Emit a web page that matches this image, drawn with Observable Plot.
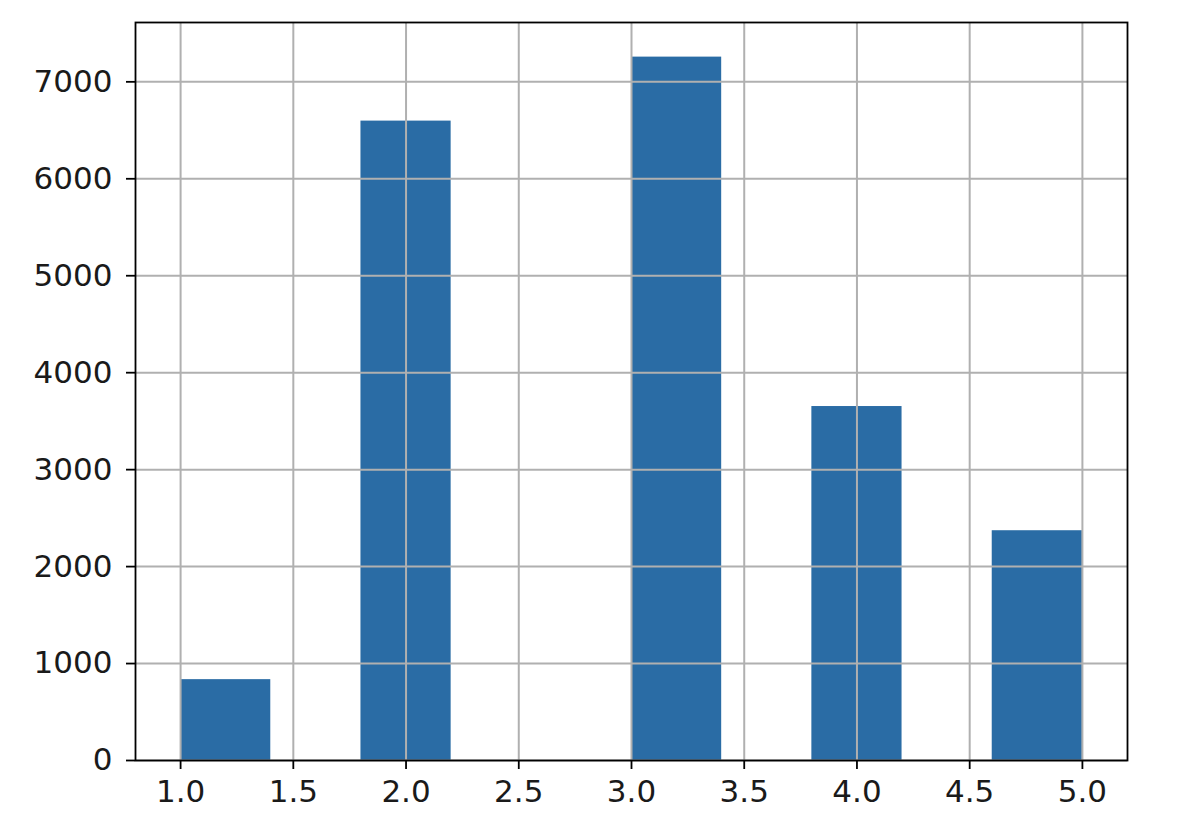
<!DOCTYPE html>
<html>
<head>
<meta charset="utf-8">
<script src="https://cdn.jsdelivr.net/npm/d3@7"></script>
<script src="https://cdn.jsdelivr.net/npm/@observablehq/plot@0.6"></script>
<style>
  html, body { margin: 0; padding: 0; background: #fff; }
  #chart svg { display: block; }
</style>
</head>
<body>
<div id="chart"></div>
<script>
const binStart = [1.0, 1.4, 1.8, 2.2, 2.6, 3.0, 3.4, 3.8, 4.2, 4.6];
const binEnd   = [1.4, 1.8, 2.2, 2.6, 3.0, 3.4, 3.8, 4.2, 4.6, 5.0];
const counts   = [834, 0, 6595, 0, 0, 7255, 0, 3651, 0, 2370];
const xTicks = [1.0, 1.5, 2.0, 2.5, 3.0, 3.5, 4.0, 4.5, 5.0];
const yTicks = [0, 1000, 2000, 3000, 4000, 5000, 6000, 7000];

const bins = binStart.map((s, i) => ({x1: s, x2: binEnd[i], y: counts[i]})).filter(d => d.y > 0);

const chart = Plot.plot({
  width: 1202,
  height: 840,
  marginLeft: 135,
  marginRight: 75,
  marginTop: 22,
  marginBottom: 80,
  style: {fontFamily: "DejaVu Sans", fontSize: "31px", color: "#000", background: "#fff"},
  x: {domain: [0.8, 5.2]},
  y: {domain: [0, 7612]},
  marks: [
    Plot.rectY(bins, {x1: "x1", x2: "x2", y: "y", fill: "#2a6ca5", inset: 0}),
    Plot.gridX(xTicks, {stroke: "#b0b0b0", strokeOpacity: 1, strokeWidth: 2}),
    Plot.gridY(yTicks, {stroke: "#b0b0b0", strokeOpacity: 1, strokeWidth: 2}),
    Plot.axisX(xTicks, {tickFormat: d3.format(".1f"), tickSize: 9, tickPadding: 10, stroke: "#000", strokeWidth: 1.8, fill: "#1a1a1a", fontSize: 31, label: null}),
    Plot.axisY(yTicks, {tickFormat: d => String(d), tickSize: 9, tickPadding: 14, stroke: "#000", strokeWidth: 1.8, fill: "#1a1a1a", fontSize: 31, label: null}),
    Plot.frame({stroke: "#000", strokeWidth: 1.8})
  ]
});
document.getElementById("chart").appendChild(chart);
</script>
</body>
</html>
